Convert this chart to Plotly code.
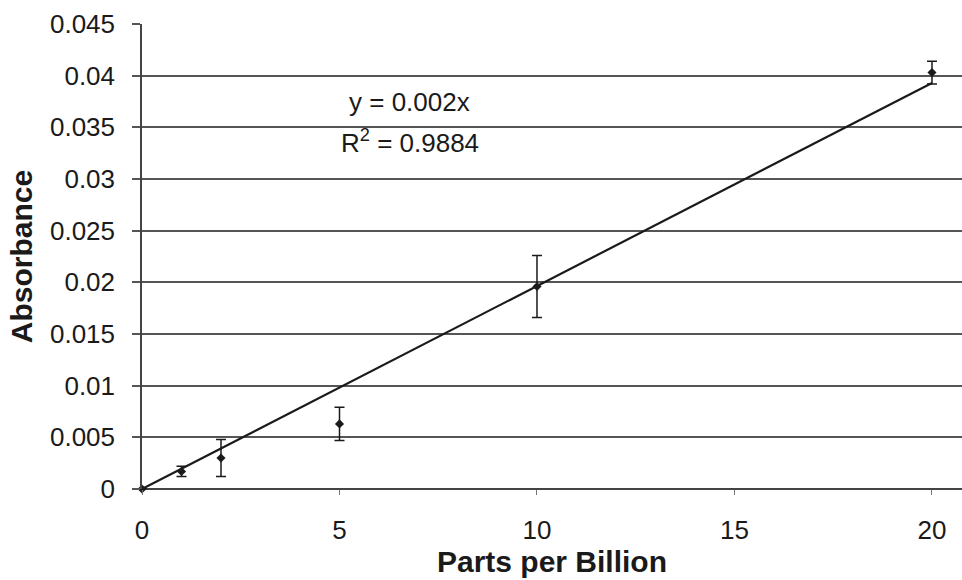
import numpy as np
import plotly.graph_objects as go

# Data
ppb = [0, 1, 2, 5, 10, 20]
absorbance = [0.0, 0.0017, 0.0030, 0.0063, 0.0196, 0.0403]
abs_err = [0.0, 0.0005, 0.0018, 0.0016, 0.0030, 0.0011]

y_tickvals = [0, 0.005, 0.01, 0.015, 0.02, 0.025, 0.03, 0.035, 0.04, 0.045]
y_ticktext = ["0", "0.005", "0.01", "0.015", "0.02", "0.025", "0.03", "0.035", "0.04", "0.045"]
x_tickvals = [0, 5, 10, 15, 20]
x_ticktext = ["0", "5", "10", "15", "20"]

eq_text = "y = 0.002x"
r2_text = "R<sup>2</sup> = 0.9884"

# Linear trendline through the origin (least squares)
xa = np.array(ppb, dtype=float)
ya = np.array(absorbance, dtype=float)
slope = float(np.sum(xa * ya) / np.sum(xa * xa))
trend_x = [0, 20]
trend_y = [slope * v for v in trend_x]

FONT = "Liberation Sans, Arial, sans-serif"
INK = "#1a1a1a"

fig = go.Figure()
fig.add_trace(go.Scatter(
    x=trend_x, y=trend_y, mode="lines",
    line=dict(color=INK, width=2.2),
    hoverinfo="skip", showlegend=False, cliponaxis=False,
))
fig.add_trace(go.Scatter(
    x=ppb, y=absorbance, mode="markers",
    marker=dict(symbol="diamond", size=7, color=INK),
    error_y=dict(type="data", array=abs_err, visible=True,
                 color=INK, thickness=1.5, width=5),
    showlegend=False, cliponaxis=False,
))

fig.add_annotation(x=6.78, y=0.0375, xref="x", yref="y", text=eq_text,
                   showarrow=False, font=dict(family=FONT, size=26, color=INK))
fig.add_annotation(x=6.78, y=0.0336, xref="x", yref="y", text=r2_text,
                   showarrow=False, font=dict(family=FONT, size=26, color=INK))

fig.update_layout(
    width=962, height=580,
    margin=dict(l=142, r=0, t=24, b=91),
    paper_bgcolor="white", plot_bgcolor="white",
    font=dict(family=FONT, color=INK),
    xaxis=dict(
        range=[0, 20.76], tickvals=x_tickvals, ticktext=x_ticktext,
        showgrid=False, zeroline=False, showline=False,
        ticks="outside", ticklen=5, tickcolor="#777", tickwidth=1,
        ticklabelstandoff=13,
        tickfont=dict(family=FONT, size=26, color=INK),
        title=dict(text="<b>Parts per Billion</b>", standoff=3,
                   font=dict(family=FONT, size=30, color=INK)),
    ),
    yaxis=dict(
        range=[0, 0.045], tickvals=y_tickvals, ticktext=y_ticktext,
        showgrid=True, gridcolor="#555", gridwidth=1.5,
        zeroline=True, zerolinecolor="#444", zerolinewidth=2,
        showline=True, linecolor="#444", linewidth=1.5,
        ticks="outside", ticklen=8, tickcolor="#555", tickwidth=1.5,
        ticklabelstandoff=12,
        tickfont=dict(family=FONT, size=26, color=INK),
        title=dict(text="<b>Absorbance</b>", standoff=8,
                   font=dict(family=FONT, size=30, color=INK)),
    ),
)

fig.write_html("out.html")
